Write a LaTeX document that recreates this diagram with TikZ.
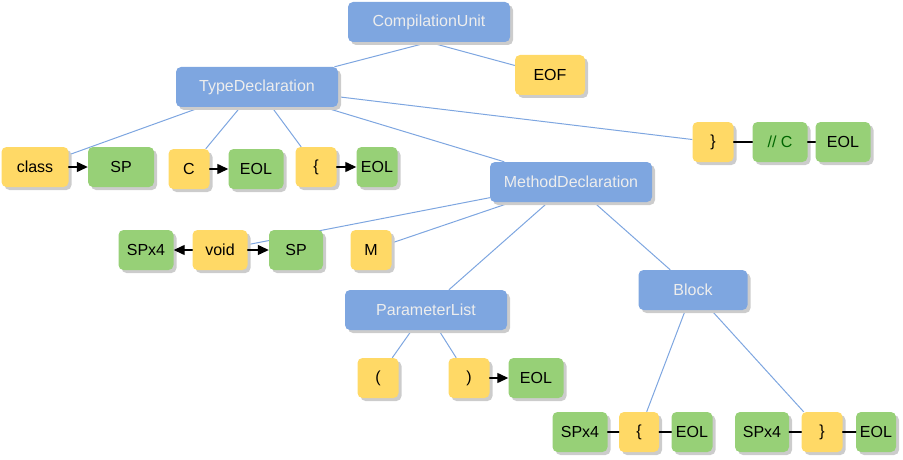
\documentclass[tikz,border=0pt]{standalone}
\usepackage{fontspec}
\setmainfont{Liberation Sans}
\usetikzlibrary{arrows.meta,backgrounds,shadows}
\definecolor{blkblue}{HTML}{7EA6E0}
\definecolor{tokyellow}{HTML}{FFD966}
\definecolor{wsgreen}{HTML}{97D077}
\definecolor{comgreen}{HTML}{006600}

\begin{document}
\begin{tikzpicture}[x=1pt, y=-1pt, line cap=round, line join=round, >={Triangle[length=11pt,width=10pt]},
    box/.style={rounded corners=5pt, minimum height=40pt, inner sep=0pt, font=\fontsize{16}{18}\selectfont,
      drop shadow={shadow xshift=3pt, shadow yshift=-3pt, fill=black!20, opacity=1}},
    blk/.style={box, fill=blkblue, text=white!93!black, minimum width=162pt},
    tok/.style={box, fill=tokyellow, minimum width=41pt},
    ws/.style={box, fill=wsgreen, minimum width=55pt},
    tree/.style={draw=blkblue, line width=1pt},
    link/.style={draw=black, line width=1.3pt}]
    \useasboundingbox (0,0) rectangle (903,460);
    % rule nodes
    \node[blk] (cu) at (429,22) {CompilationUnit};
    \node[blk] (td) at (257,87) {TypeDeclaration};
    \node[blk] (md) at (571,182) {MethodDeclaration};
    \node[blk] (pl) at (426,310) {ParameterList};
    \node[blk, minimum width=109pt] (blck) at (693,290) {Block};
    % tokens
    \node[tok, minimum width=70pt] (eof) at (550,75) {EOF};
    \node[tok, minimum width=67pt] (cls) at (35,167) {class};
    \node[ws, minimum width=66pt] (sp1) at (121,167) {SP};
    \node[tok] (cname) at (189,169) {C};
    \node[ws] (eol1) at (256,169) {EOL};
    \node[tok] (lbr1) at (316,167) {\{};
    \node[ws, minimum width=41pt] (eol2) at (377,167) {EOL};
    \node[tok] (rbr1) at (713,142) {\}};
    \node[ws, text=comgreen] (com) at (780,142) {// C};
    \node[ws] (eol3) at (843,142) {EOL};
    \node[ws] (spfour1) at (146,250) {SPx4};
    \node[tok, minimum width=55pt] (void) at (220,250) {void};
    \node[ws, minimum width=54pt] (sp2) at (296,250) {SP};
    \node[tok] (mname) at (371,250) {M};
    \node[tok] (lpar) at (378,378) {(};
    \node[tok] (rpar) at (469,378) {)};
    \node[ws] (eol4) at (536,378) {EOL};
    \node[ws] (spfour2) at (580,432) {SPx4};
    \node[tok, minimum width=40pt] (lbr2) at (639,432) {\{};
    \node[ws, minimum width=41pt] (eol5) at (692,432) {EOL};
    \node[ws, minimum width=54pt] (spfour3) at (762,432) {SPx4};
    \node[tok] (rbr2) at (822,432) {\}};
    \node[ws, minimum width=40pt] (eol6) at (876,432) {EOL};
    % tree edges
    \begin{scope}[on background layer]
      \draw[tree] (cu.south) -- (td);
      \draw[tree] (cu.south) -- (eof);
      \draw[tree] (td) -- (cls);
      \draw[tree] (td) -- (cname);
      \draw[tree] (td) -- (lbr1);
      \draw[tree] (td) -- (md);
      \draw[tree] (td) -- (rbr1);
      \draw[tree] (md) -- (void);
      \draw[tree] (md) -- (mname);
      \draw[tree] (md) -- (pl);
      \draw[tree] (md) -- (blck);
      \draw[tree] (pl) -- (lpar);
      \draw[tree] (pl) -- (rpar);
      \draw[tree] (blck) -- (lbr2);
      \draw[tree] (blck) -- (rbr2);
    \end{scope}
    % token links
    \draw[link, ->] (cls) -- (sp1);
    \draw[link, ->] (cname) -- (eol1);
    \draw[link, ->] (lbr1) -- (eol2);
    \draw[link, ->] (void) -- (spfour1);
    \draw[link, ->] (void) -- (sp2);
    \draw[link, ->] (rpar) -- (eol4);
    \draw[link] (rbr1) -- (com);
    \draw[link] (com) -- (eol3);
    \draw[link] (spfour2) -- (lbr2);
    \draw[link] (lbr2) -- (eol5);
    \draw[link] (spfour3) -- (rbr2);
    \draw[link] (rbr2) -- (eol6);
\end{tikzpicture}
\end{document}
